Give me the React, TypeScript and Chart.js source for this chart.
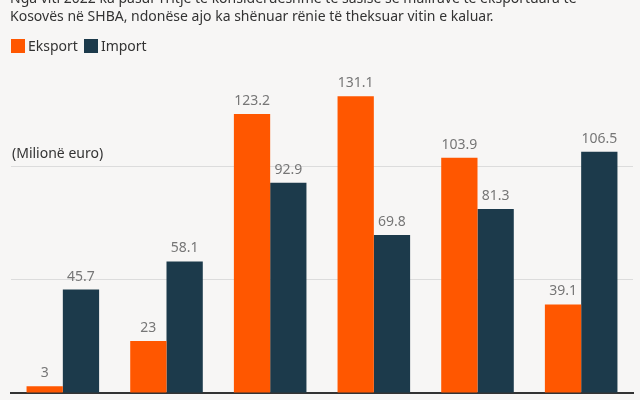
import React, { useEffect, useRef } from "react";
import { Chart, registerables } from "chart.js";

Chart.register(...registerables);

const years = ["2020", "2021", "2022", "2023", "2024", "2025"];
const exportValues = [3, 23, 123.2, 131.1, 103.9, 39.1];
const importValues = [45.7, 58.1, 92.9, 69.8, 81.3, 106.5];
const gridTicks = [0, 50, 100];
const seriesNames = ["Eksport", "Import"];
const titleLines = [
  "Nga viti 2022 ka pasur rritje të konsiderueshme të sasisë së mallrave të eksportuara të",
  "Kosovës në SHBA, ndonëse ajo ka shënuar rënie të theksuar vitin e kaluar.",
];
const unitLabel = "(Milionë euro)";

const ORANGE = "#ff5700";
const NAVY = "#1c3a4b";
const FONT = "'Noto Sans', sans-serif";

const valueLabels = {
  id: "valueLabels",
  afterDatasetsDraw(chart: any) {
    const ctx = chart.ctx;
    ctx.save();
    ctx.font = `14px ${FONT}`;
    ctx.fillStyle = "#767676";
    ctx.textAlign = "center";
    ctx.textBaseline = "bottom";
    chart.data.datasets.forEach((ds: any, i: number) => {
      const meta = chart.getDatasetMeta(i);
      meta.data.forEach((el: any, j: number) => {
        ctx.fillText(String(ds.data[j]), el.x, el.y - 6);
      });
    });
    ctx.restore();
  },
};

const unitPlugin = {
  id: "unitLabel",
  afterDraw(chart: any) {
    const ctx = chart.ctx;
    const y = chart.scales.y.getPixelForValue(gridTicks[gridTicks.length - 1]);
    ctx.save();
    ctx.font = `14px ${FONT}`;
    ctx.fillStyle = "#333333";
    ctx.textAlign = "left";
    ctx.textBaseline = "alphabetic";
    ctx.fillText(unitLabel, chart.chartArea.left + 1, y - 9);
    ctx.restore();
  },
};

export default function App() {
  const ref = useRef<HTMLCanvasElement>(null);

  useEffect(() => {
    document.body.style.margin = "0";
    const chart = new Chart(ref.current as HTMLCanvasElement, {
      type: "bar",
      data: {
        labels: years,
        datasets: [
          { label: seriesNames[0], data: exportValues, backgroundColor: ORANGE },
          { label: seriesNames[1], data: importValues, backgroundColor: NAVY },
        ],
      },
      options: {
        animation: false,
        responsive: false,
        maintainAspectRatio: false,
        layout: { padding: { left: 11, right: 7, top: 76, bottom: 7 } },
        datasets: { bar: { categoryPercentage: 0.7, barPercentage: 1.0 } },
        plugins: { legend: { display: false }, tooltip: { enabled: false } },
        scales: {
          x: {
            ticks: { display: false },
            grid: { display: false, drawTicks: false },
            border: { display: true, color: "#333333", width: 2 },
            afterFit: (s: any) => {
              s.height = 0;
            },
          },
          y: {
            min: 0,
            max: 140,
            afterBuildTicks: (s: any) => {
              s.ticks = gridTicks.map((v) => ({ value: v }));
            },
            ticks: { display: false },
            grid: { color: "#dcdcdc", drawTicks: false, lineWidth: 1 },
            border: { display: false },
            afterFit: (s: any) => {
              s.width = 0;
            },
          },
        },
      } as any,
      plugins: [valueLabels, unitPlugin],
    });
    return () => chart.destroy();
  }, []);

  const box = (c: string) => (
    <span style={{ display: "inline-block", width: 14, height: 14, background: c, marginRight: 3 }} />
  );

  return (
    <div
      style={{
        position: "relative",
        width: 640,
        height: 400,
        overflow: "hidden",
        background: "#f7f6f5",
        fontFamily: FONT,
        color: "#333333",
      }}
    >
      <canvas ref={ref} width={640} height={400} style={{ position: "absolute", left: 0, top: 0, display: "block" }} />
      <div style={{ position: "absolute", left: 10, top: -11, fontSize: 14, lineHeight: "17.5px", whiteSpace: "nowrap" }}>
        {titleLines.map((t) => (
          <div key={t}>{t}</div>
        ))}
      </div>
      <div
        style={{
          position: "absolute",
          left: 11,
          top: 38,
          display: "flex",
          alignItems: "center",
          fontSize: 14,
          lineHeight: "16px",
        }}
      >
        {box(ORANGE)}
        <span style={{ marginRight: 6 }}>{seriesNames[0]}</span>
        {box(NAVY)}
        <span>{seriesNames[1]}</span>
      </div>
    </div>
  );
}
